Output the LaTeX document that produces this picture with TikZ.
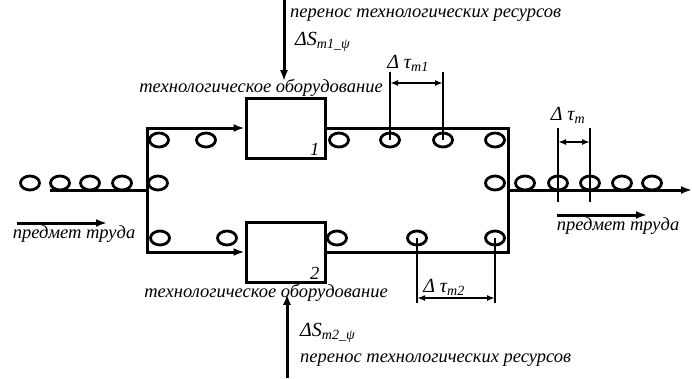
\documentclass[tikz,border=0pt]{standalone}
\usepackage{fontspec}
\setmainfont{Liberation Serif}
\usetikzlibrary{arrows.meta,shapes.geometric,calc}

\begin{document}
\begin{tikzpicture}[
x=1pt,y=-1pt,
line/.style={line width=3pt},
flow/.style={line width=3pt,-{Latex[length=11pt,width=8pt]}},
part/.style={ellipse,draw,line width=2.8pt,minimum width=19pt,minimum height=14pt,inner sep=0pt},
machine/.style={draw,line width=3pt,minimum width=79pt,minimum height=60pt,inner sep=0pt},
dim/.style={line width=2pt},
dimarrow/.style={line width=1.6pt,{Latex[length=8pt,width=6pt]}-{Latex[length=8pt,width=6pt]}},
lbl/.style={font=\itshape\fontsize{18.5}{20}\selectfont,inner sep=0pt},
sym/.style={font=\itshape\fontsize{20}{22}\selectfont,inner sep=0pt},
]
\useasboundingbox (0,0) rectangle (692,378);

% equipment
\node[machine] (m1) at (285.5,128) {};
\node[machine] (m2) at (285.5,252) {};
\node[lbl,anchor=south east] at ([xshift=-7pt,yshift=4pt]m1.south east) {1};
\node[lbl,anchor=south east] at ([xshift=-7pt,yshift=4pt]m2.south east) {2};
\node[lbl] (t1) at (261,88) {технологическое оборудование};
\node[lbl] (t2) at (266,293) {технологическое оборудование};

% work pieces
\foreach \x [count=\i] in {30,60,90,122,158}
	\node[part] (a\i) at (\x,183) {};
\foreach \x [count=\i] in {159,206,339,390,443,495}
	\node[part] (u\i) at (\x,140) {};
\foreach \x [count=\i] in {160,227,337,417,495}
	\node[part] (d\i) at (\x,238) {};
\foreach \x [count=\i] in {495,525,558,590,622,652}
	\node[part] (b\i) at (\x,183) {};

% flow of parts
\coordinate (in) at (50,190);
\coordinate (fork) at (147,190);
\coordinate (join) at (508,190);
\coordinate (out) at (692,190);
\draw[line] (in) -- (fork);
\draw[flow] (fork) |- (m1.west);
\draw[flow] (fork) |- (m2.west);
\draw[line] (m1.east) -| (join);
\draw[line] (m2.east) -| (join);
\draw[flow] (join) -- (out);

% resources
\coordinate (s1) at (284,0);
\coordinate (s2) at (287,378);
\draw[flow] (s1) -- ([yshift=-2pt]t1.north -| s1);
\draw[flow] (s2) -- ([yshift=8pt]t2.south -| s2);
\node[lbl,anchor=west] (r1) at (290,15) {перенос технологических ресурсов};
\node[sym,anchor=west] (ds1) at (295,42) {ΔS\textsubscript{m1\_ψ}};
\node[sym,anchor=west] (ds2) at (300,333) {ΔS\textsubscript{m2\_ψ}};
\node[lbl,anchor=west] (r2) at (300,360) {перенос технологических ресурсов};

% subject of labour
\coordinate (p1) at (17,223);
\coordinate (p2) at (107,223);
\coordinate (q1) at (557,215);
\coordinate (q2) at (647,215);
\draw[flow] (p1) -- (p2);
\draw[flow] (q1) -- (q2);
\node[lbl] (w1) at (74,234) {предмет труда};
\node[lbl] (w2) at (618,226) {предмет труда};

% intervals
\draw[dim] (u4.center) -- (u4 |- 0,72);
\draw[dim] (u5.center) -- (u5 |- 0,72);
\draw[dimarrow] (u4 |- 0,83) -- (u5 |- 0,83);
\node[sym] (tau1) at (408,63) {Δ τ\textsubscript{m1}};
\draw[dim] (b3 |- 0,128) -- (b3 |- 0,202);
\draw[dim] (b4 |- 0,128) -- (b4 |- 0,202);
\draw[dimarrow] (b3 |- 0,142) -- (b4 |- 0,142);
\node[sym] (tau) at (568,115) {Δ τ\textsubscript{m}};
\draw[dim] (d4.center) -- (d4 |- 0,303);
\draw[dim] (d5.center) -- (d5 |- 0,303);
\draw[dimarrow] (d4 |- 0,298) -- (d5 |- 0,298);
\node[sym] (tau2) at (444,287) {Δ τ\textsubscript{m2}};
\end{tikzpicture}
\end{document}
